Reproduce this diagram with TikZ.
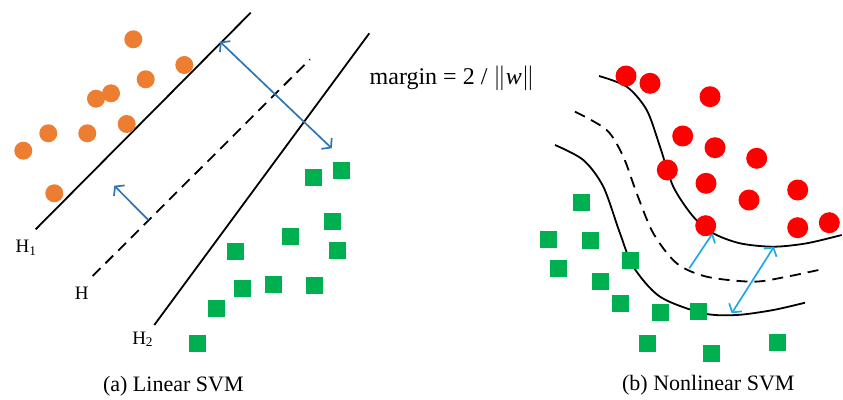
\documentclass[tikz,border=0pt]{standalone}
\usepackage{fontspec}
\setmainfont{Liberation Serif}
\usetikzlibrary{arrows.meta}

\definecolor{svmorange}{HTML}{ED7D31}
\definecolor{svmgreen}{HTML}{00B050}
\definecolor{svmred}{HTML}{FF0000}
\definecolor{wblue}{HTML}{2E75B6}
\definecolor{mblue}{HTML}{1FA8E6}

\tikzset{
  orangedot/.style={circle, fill=svmorange, inner sep=0pt, minimum size=18pt},
  reddot/.style={circle, fill=svmred, inner sep=0pt, minimum size=21pt},
  greensq/.style={rectangle, fill=svmgreen, inner sep=0pt, minimum size=17pt},
  hyper/.style={line width=1.8pt},
  hyperdash/.style={hyper, dash pattern=on 11pt off 7pt},
  vecarrow/.style={line width=1.7pt, >={Straight Barb[length=6pt,width=15pt]}},
  lbl/.style={font=\fontsize{19}{22}\selectfont, inner sep=0pt},
  caption/.style={font=\fontsize{22}{26}\selectfont, inner sep=0pt}
}

\begin{document}
\begin{tikzpicture}[x=1pt, y=-1pt]
\useasboundingbox (0,0) rectangle (843,399);

% (a) linear SVM
\coordinate (h1s) at (35.7,229.3);  \coordinate (h1e) at (250.7,12.7);
\coordinate (hs)  at (92.7,276);    \coordinate (he)  at (310,59.3);
\coordinate (h2s) at (154.3,325);   \coordinate (h2e) at (369.3,33.3);
\draw[hyper] (h1s) -- (h1e);
\draw[hyperdash] (hs) -- (he);
\draw[hyper] (h2s) -- (h2e);

\coordinate (m1) at (220,41.7);   \coordinate (m2) at (331.7,148.3);
\coordinate (w0) at (148.3,220);  \coordinate (w1) at (114.3,185.7);
\draw[vecarrow, wblue, <->] (m1) -- (m2);
\draw[vecarrow, wblue, ->] (w0) -- (w1);

\foreach \x/\y [count=\i] in {133.3/39.3, 184.3/65, 145.7/79.3, 111/93.3, 96/98.7,
    126.7/124, 48.3/133.3, 87.3/133.3, 23.3/150.7, 54.3/193.3}
  \node[orangedot] (o\i) at (\x,\y) {};
\foreach \x/\y [count=\i] in {313.3/177.7, 341.7/170.3, 332.3/221, 290/236.7, 337.3/250,
    235/251.3, 242.3/288.3, 273.3/284, 314.3/285.7, 216/308, 197.7/343.3}
  \node[greensq] (g\i) at (\x,\y) {};

\node[lbl] (lh1) at (26,248) {H\textsubscript{1}};
\node[lbl] (lh)  at (81.7,293.3) {H};
\node[lbl] (lh2) at (142.7,339.3) {H\textsubscript{2}};
\node[caption] (capa) at (173.3,386.7) {(a) Linear SVM};

\node[font=\fontsize{24}{28}\selectfont, inner sep=0pt] (marg) at (452,78)
  {margin = 2 / $\|$\textit{w}$\|$};

% (b) nonlinear SVM
\draw[hyper] plot[smooth] coordinates {(599,76) (626.7,86.7) (646.7,110) (660,146.7)
  (673.3,186.7) (693.3,216.7) (713.3,233.3) (740,243.3) (773.3,246.7) (806.7,243.3) (841.7,235)};
\draw[hyperdash] plot[smooth] coordinates {(575,111.7) (606.7,130) (623.3,156.7) (636.7,193.3)
  (653.3,233.3) (676.7,263.3) (706.7,276.7) (753.3,281.7) (786.7,276.7) (821.7,269.3)};
\draw[hyper] plot[smooth] coordinates {(555,145) (583.3,160) (603.3,186.7) (620,233.3)
  (633.3,266.7) (660,296.7) (703.3,313.3) (736.7,315) (773.3,310) (805,302.7)};

\coordinate (n0) at (689.3,268.3);  \coordinate (n1) at (712.7,233.3);
\coordinate (d1) at (774,246.7);    \coordinate (d2) at (731.7,313.3);
\draw[vecarrow, mblue, ->] (n0) -- (n1);
\draw[vecarrow, mblue, <->] (d1) -- (d2);

\foreach \x/\y [count=\i] in {626/76, 650/83.3, 710/96.7, 682.7/136, 715/147.7, 756.7/158.3,
    667.3/170, 706/183.3, 749/200, 797.7/190, 705.7/225.7, 797.7/227.7, 829.3/222.7}
  \node[reddot] (r\i) at (\x,\y) {};
\foreach \x/\y [count=\i] in {581/202.7, 548.3/239.3, 590.7/240.7, 630.7/260, 558.3/268.3,
    600/281.7, 620/303.3, 660/312.3, 698.3/311.7, 647.7/343.3, 711.7/353.3, 777.3/342.3}
  \node[greensq] (s\i) at (\x,\y) {};

\node[caption] (capb) at (708.3,385.7) {(b) Nonlinear SVM};
\end{tikzpicture}
\end{document}
